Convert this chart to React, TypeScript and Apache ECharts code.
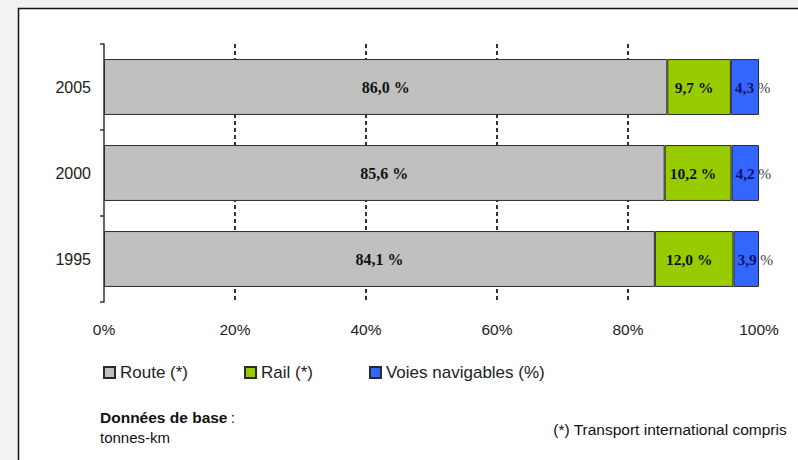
import React, { useEffect, useRef } from "react";
import * as echarts from "echarts";

const categories = ["1995", "2000", "2005"];
const routeValues = [84.1, 85.6, 86.0];
const railValues = [12.0, 10.2, 9.7];
const waterValues = [3.9, 4.2, 4.3];
const xTicks = [0, 20, 40, 60, 80, 100];
const seriesNames = ["Route (*)", "Rail (*)", "Voies navigables (%)"];

const SANS = "'Liberation Sans', Arial, sans-serif";
const SERIF = "'Liberation Serif', 'Times New Roman', serif";

const fmt = (v: number) => v.toFixed(1).replace(".", ",");

export default function App() {
  const ref = useRef<HTMLDivElement>(null);
  useEffect(() => {
    if (!ref.current) return;
    const chart = echarts.init(ref.current, null, { renderer: "svg" });
    const border = { borderColor: "#2a2a2a", borderWidth: 1 };
    chart.setOption({
      animation: false,
      backgroundColor: "#f2f2f2",
      graphic: [
        {
          type: "rect",
          z: -10,
          silent: true,
          shape: { x: 18.5, y: 8.5, width: 900, height: 600 },
          style: { fill: "#ffffff", stroke: "#111", lineWidth: 1.5 },
        },
        {
          type: "text",
          left: 100,
          top: 409,
          style: {
            text: "{b|Données de base} {n|:}",
            rich: {
              b: { fontFamily: SANS, fontSize: 15.5, fontWeight: "bold", fill: "#111" },
              n: { fontFamily: SANS, fontSize: 15.5, fill: "#111" },
            },
          },
        },
        {
          type: "text",
          left: 100,
          top: 430,
          style: { text: "tonnes-km", fontFamily: SANS, fontSize: 15, fill: "#111" },
        },
        {
          type: "text",
          right: 11,
          top: 421,
          style: {
            text: "(*) Transport international compris",
            fontFamily: SANS,
            fontSize: 15.5,
            fill: "#111",
          },
        },
      ],
      legend: {
        left: 103,
        top: 364,
        padding: 0,
        itemWidth: 11,
        itemHeight: 11,
        itemGap: 56,
        icon: "rect",
        textStyle: { fontFamily: SANS, fontSize: 17, color: "#222" },
        data: seriesNames,
      },
      grid: { left: 104, right: 39, top: 44, bottom: 158 },
      xAxis: {
        type: "value",
        min: xTicks[0],
        max: xTicks[xTicks.length - 1],
        interval: 20,
        axisLine: { show: false },
        axisTick: { show: false },
        axisLabel: {
          formatter: "{value}%",
          fontFamily: SANS,
          fontSize: 15.5,
          color: "#222",
          margin: 19,
        },
        splitLine: {
          show: true,
          showMinLine: false,
          showMaxLine: false,
          lineStyle: { color: "#000", width: 1.6, type: [4, 3] },
        },
      },
      yAxis: {
        type: "category",
        data: categories,
        axisLine: { show: true, lineStyle: { color: "#333", width: 1.5 } },
        axisTick: { show: true, length: 4, lineStyle: { color: "#333", width: 1.5 } },
        axisLabel: { fontFamily: SANS, fontSize: 16, color: "#222", margin: 13 },
        splitLine: { show: false },
      },
      series: [
        {
          name: seriesNames[0],
          type: "bar",
          stack: "total",
          barCategoryGap: "35%",
          data: routeValues,
          itemStyle: { color: "#c0c0c0", ...border },
          label: {
            show: true,
            position: "inside",
            formatter: (p: any) => fmt(p.value) + " %",
            fontFamily: SERIF,
            fontWeight: "bold",
            fontSize: 16,
            color: "#111",
          },
        },
        {
          name: seriesNames[1],
          type: "bar",
          stack: "total",
          data: railValues,
          itemStyle: { color: "#99cc00", ...border },
          label: {
            show: true,
            position: "inside",
            offset: [-5, 0],
            formatter: (p: any) => fmt(p.value) + " %",
            fontFamily: SERIF,
            fontWeight: "bold",
            fontSize: 15.5,
            color: "#111",
          },
        },
        {
          name: seriesNames[2],
          type: "bar",
          stack: "total",
          data: waterValues,
          itemStyle: { color: "#3366ff", ...border },
          label: {
            show: true,
            position: "insideLeft",
            distance: 4,
            formatter: (p: any) => "{a|" + fmt(p.value) + "} {b|%}",
            rich: {
              a: { fontFamily: SERIF, fontWeight: "bold", fontSize: 15.5, color: "#12126a" },
              b: { fontFamily: SERIF, fontSize: 15.5, color: "#444" },
            },
          },
        },
      ],
    });
    return () => chart.dispose();
  }, []);
  return (
    <div
      ref={ref}
      style={{ position: "absolute", left: 0, top: 0, width: 798, height: 460 }}
    />
  );
}
